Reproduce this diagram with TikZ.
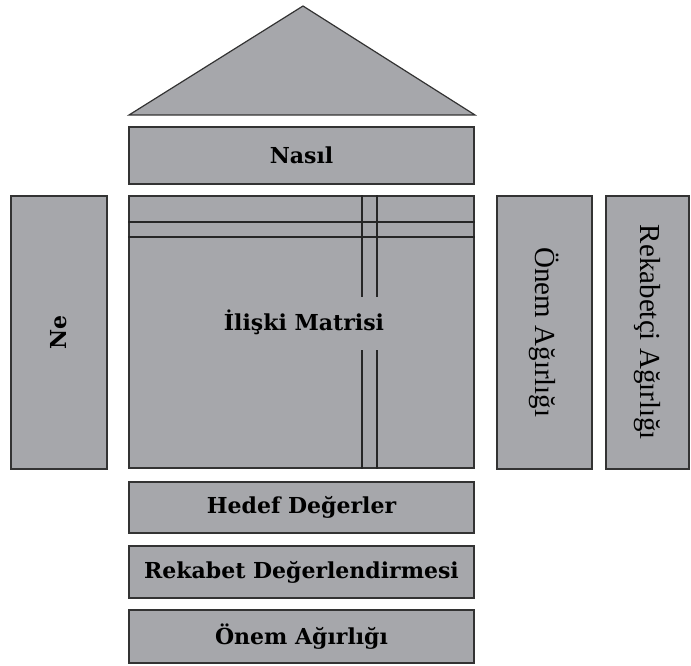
\documentclass[tikz,border=0pt]{standalone}
\usepackage{fontspec}
\setmainfont{DejaVu Serif}
\newfontfamily\sidefont{Liberation Serif}
\usetikzlibrary{positioning}
\definecolor{a6a7ab}{HTML}{A6A7AB}
\definecolor{333333}{HTML}{333333}
\begin{document}
\begin{tikzpicture}[x=1pt,y=-1pt,
    blok/.style={draw=333333,fill=a6a7ab,line width=1.2pt,inner sep=0,font=\fontsize{22}{26}\selectfont\bfseries},
    yan/.style={blok,font=\fontsize{29}{32}\sidefont},
    ciz/.style={black!85,line width=1.1pt}]
    \useasboundingbox(0,0)rectangle(691,666);
    \coordinate(T)at(303,6);
    \coordinate(TL)at(129,115);
    \coordinate(TR)at(475,115);
    \draw[draw=333333,fill=a6a7ab,line width=1.2pt](TL)--(T)--(TR)--cycle;
    \node[blok,minimum width=345,minimum height=57](nasil)at(301.5,155.5){Nasıl};
    \node[blok,minimum width=345,minimum height=272](matris)at(301.5,332){};
    \node[blok,minimum width=96,minimum height=273](ne)at(59,332.5){\rotatebox{90}{Ne}};
    \node[yan,minimum width=95,minimum height=273](onem)at(544.5,332.5){\rotatebox{-90}{Önem Ağırlığı}};
    \node[yan,minimum width=83,minimum height=273](rekabetci)at(647.5,332.5){\rotatebox{-90}{Rekabetçi Ağırlığı}};
    \node[blok,minimum width=345,minimum height=51](hedef)at(301.5,507.5){Hedef Değerler};
    \node[blok,minimum width=345,minimum height=52](rekabet)at(301.5,572){Rekabet Değerlendirmesi};
    \node[blok,minimum width=345,minimum height=53](agirlik)at(301.5,636.5){Önem Ağırlığı};
    % matrisin ic cizgileri
    \draw[ciz](matris.west|-0,222)--(matris.east|-0,222);
    \draw[ciz](matris.west|-0,237)--(matris.east|-0,237);
    \foreach \xx in {362,377}{
        \draw[ciz](\xx,0|-matris.north)--(\xx,297);
        \draw[ciz](\xx,350)--(\xx,0|-matris.south);
    }
    \node[font=\fontsize{22}{26}\selectfont\bfseries](matrislbl)at(304,322){İlişki Matrisi};
\end{tikzpicture}
\end{document}
